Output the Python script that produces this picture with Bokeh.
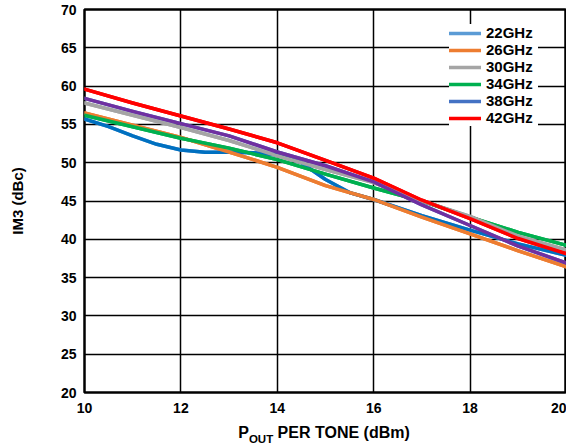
from bokeh.plotting import figure
from bokeh.models import Range1d, Legend, LegendItem, FixedTicker, Div
from bokeh.layouts import column
from bokeh.embed import file_html
from bokeh.resources import INLINE

# ---- data ----
pout = [10, 11, 12, 13, 14, 15, 16, 17, 18, 19, 20]
pout_22 = [10, 10.5, 11, 11.5, 12, 12.5, 13, 13.5, 14, 14.5, 15, 15.5, 16, 17, 18, 19, 20]
im3_22 = [55.7, 54.7, 53.5, 52.4, 51.65, 51.35, 51.35, 51.3, 51.0, 50.0, 47.8, 46.1, 45.2, 43.1, 41.2, 39.4, 37.9]
im3_26 = [56.5, 54.9, 53.3, 51.4, 49.4, 47.0, 45.2, 42.9, 40.7, 38.5, 36.4]
im3_30 = [57.8, 56.2, 54.6, 52.9, 50.9, 49.1, 47.4, 45.0, 43.0, 40.4, 38.6]
im3_34 = [56.2, 54.7, 53.2, 51.9, 50.4, 48.5, 46.7, 45.0, 42.9, 40.9, 39.2]
im3_38 = [58.4, 56.7, 55.1, 53.5, 51.4, 49.6, 47.5, 44.5, 41.8, 39.1, 36.9]
im3_42 = [59.6, 57.8, 56.1, 54.4, 52.6, 50.3, 48.0, 45.1, 42.7, 40.1, 38.1]

labels = ["22GHz", "26GHz", "30GHz", "34GHz", "38GHz", "42GHz"]
line_colors = ["#0070C0", "#ED7D31", "#A5A5A5", "#00B050", "#7030A0", "#FF0000"]
legend_colors = ["#5B9BD5", "#ED7D31", "#A5A5A5", "#00B050", "#4472C4", "#FF0000"]
x_ticks = [10, 12, 14, 16, 18, 20]
y_ticks = [20, 25, 30, 35, 40, 45, 50, 55, 60, 65, 70]
x_title_main, x_title_sub, x_title_rest = "P", "OUT", " PER TONE (dBm)"

FONT = "Liberation Sans"

p = figure(width=566, height=420, x_range=Range1d(10, 20), y_range=Range1d(20, 70),
           output_backend="svg", toolbar_location=None,
           min_border_left=84, min_border_right=0, min_border_top=9, min_border_bottom=28)

p.background_fill_color = "white"
p.border_fill_color = "white"
p.outline_line_color = "black"
p.outline_line_width = 2.5

for ax in (p.xaxis[0], p.yaxis[0]):
    ax.major_label_text_font = FONT
    ax.major_label_text_font_style = "bold"
    ax.major_label_text_font_size = "14px"
    ax.major_label_text_color = "black"
    ax.major_tick_out = 0
    ax.major_tick_in = 0
    ax.minor_tick_out = 0
    ax.minor_tick_in = 0
    ax.axis_line_color = None

p.xaxis[0].ticker = FixedTicker(ticks=x_ticks)
p.yaxis[0].ticker = FixedTicker(ticks=y_ticks)
p.xaxis[0].major_label_standoff = 10
p.yaxis[0].major_label_standoff = 8

p.yaxis[0].axis_label = "IM3 (dBc)"
p.yaxis[0].axis_label_text_font = FONT
p.yaxis[0].axis_label_text_font_style = "bold"
p.yaxis[0].axis_label_text_font_size = "15px"
p.yaxis[0].axis_label_text_color = "black"
p.yaxis[0].axis_label_standoff = 32

p.xgrid[0].ticker = FixedTicker(ticks=x_ticks)
p.ygrid[0].ticker = FixedTicker(ticks=y_ticks)
for g in (p.xgrid[0], p.ygrid[0]):
    g.grid_line_color = "black"
    g.grid_line_width = 1.5

series = [(pout_22, im3_22), (pout, im3_26), (pout, im3_30), (pout, im3_34), (pout, im3_38), (pout, im3_42)]

# legend-coloured copies (they give the legend its swatches and are covered by the real lines)
items = []
for (xs, ys), lab, col in zip(series, labels, legend_colors):
    r = p.line(xs, ys, line_color=col, line_width=3.5, line_join="round", line_cap="round")
    items.append(LegendItem(label=lab, renderers=[r]))

# the drawn curves
order = [0, 1, 3, 2, 4, 5]
for i in order:
    xs, ys = series[i]
    p.line(xs, ys, line_color=line_colors[i], line_width=3.5, line_join="round", line_cap="round")

legend = Legend(items=items, location=(365, 266), margin=0, padding=4, spacing=0,
                glyph_width=32, glyph_height=16, label_height=16, label_width=52,
                label_standoff=5, border_line_color=None, background_fill_color="white",
                background_fill_alpha=1.0, label_text_font=FONT, label_text_font_style="bold",
                label_text_font_size="15px", label_text_color="black")
p.add_layout(legend, "center")

# x axis title with subscript (HTML text under the plot, centred on the frame)
title_html = (
    '<div style="display:block;width:480px;font-family:\'Liberation Sans\',Arial,sans-serif;'
    'font-weight:bold;font-size:16px;line-height:18px;color:#000;text-align:center;'
    'padding-top:4px;white-space:nowrap;">'
    f'{x_title_main}<span style="font-size:11.5px;position:relative;top:5px;">{x_title_sub}</span>'
    f'{x_title_rest}</div>'
)
xtitle = Div(text=title_html, width=480, height=26, margin=(0, 0, 0, 84))

layout = column(p, xtitle, spacing=0)

open("out.html", "w").write(file_html(layout, INLINE))
